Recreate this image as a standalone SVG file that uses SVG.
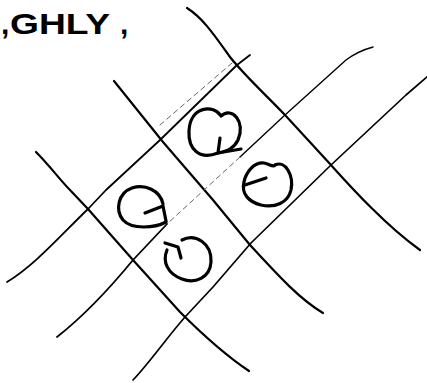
<svg xmlns="http://www.w3.org/2000/svg" width="427" height="383" viewBox="0 0 427 383">
<style>
.bg{fill:#ffffff}
.heavy{fill:none;stroke:#000;stroke-width:2.2;stroke-linecap:round;stroke-linejoin:round}
.thin{fill:none;stroke:#000;stroke-width:1.4;stroke-linecap:round;stroke-linejoin:round}
.faint{fill:none;stroke:#666;stroke-width:1;stroke-dasharray:5 4;stroke-linecap:round}
.loop{fill:none;stroke:#000;stroke-width:3.2;stroke-linecap:round;stroke-linejoin:round}
.hand{font-family:"Liberation Sans",Arial,sans-serif;font-weight:bold;font-size:30px;fill:#000}
</style>
<rect class="bg" x="0" y="0" width="427" height="383"/>
<g id="caption">
<text class="hand" y="34"><tspan x="1">,</tspan><tspan x="10" textLength="100" lengthAdjust="spacingAndGlyphs">GHLY</tspan><tspan x="120">,</tspan></text>
</g>
<g id="grid">
<path class="heavy" d="M187,8 C203,18 215,36 230,57 C245,76 265,94 285,115 L331,165 C350,186 385,225 420,250"/>
<path class="heavy" d="M114,81 C135,107 150,126 163,142 L213,200 L250,245 C275,272 298,298 323,313"/>
<path class="heavy" d="M36,152 C50,166 60,180 70,190 L88,209 L133,260 L180,312 C200,332 225,355 249,371"/>
<path class="thin" d="M250,55 L237,65 L160,140 L106,190 L88,209 C60,236 35,265 7,282" style="stroke-width:1.8"/>
<path class="thin" d="M373,47 C362,50 354,54 346,60 L285,115 L240,157"/>
<path class="faint" d="M240,157 L167,224"/>
<path class="thin" d="M167,224 L133,260 C110,288 85,315 57,337" style="stroke-width:1.8"/>
<path class="thin" d="M427,77 L406,95 L331,165 L251,243 L213,287 L185,317 C165,340 150,362 133,380" style="stroke-width:1.7"/>
<path class="faint" d="M232,63 L160,125"/>
</g>
<g id="rot-1">
<path class="loop" d="M221,116 C214,104 190,106 189,131 C188,150 200,160 218,153 C228,151 234,148 238,140 C246,122 232,106 221,116"/>
<path class="loop" d="M220,138 L218,153 L241,149"/>
</g>
<g id="rot-2">
<path class="loop" d="M275,165 C285,160 294,175 291,190 C288,203 275,208 261,205 C249,202 241,194 244,182 C246,172 254,162 264,163 C270,164 273,168 275,165"/>
<path class="loop" d="M245,185 L266,178"/>
</g>
<g id="rot-3">
<path class="loop" d="M163,204 C160,190 145,184 132,188 C118,193 115,210 123,220 C132,230 155,228 166,222"/>
<path class="loop" d="M145,213 L163,206 L166,221"/>
</g>
<g id="rot-4">
<path class="loop" d="M182,240 C195,233 212,243 211,262 C210,278 195,284 182,279 C168,274 162,262 167,250"/>
<path class="loop" d="M165,243 L178,247 L181,258"/>
</g>
</svg>
